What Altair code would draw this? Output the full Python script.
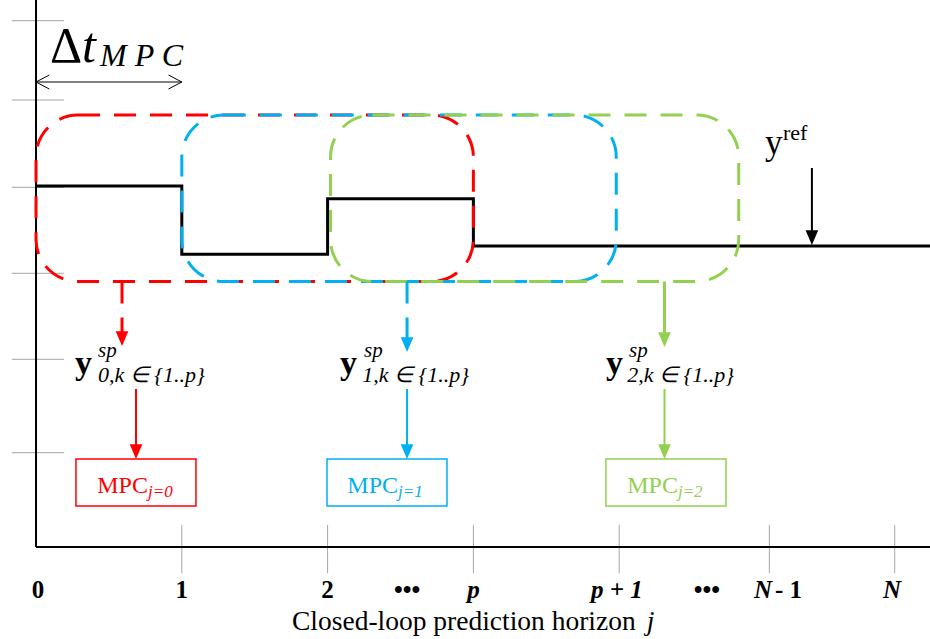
import altair as alt
import pandas as pd

SERIF = "Liberation Serif"

# Drawing frame: x in horizon steps j, y in signal-level units
X_DOMAIN = [-0.247, 6.132]
Y_DOMAIN = [-0.92, 5.47]

# Closed-loop set-point trajectory (piecewise constant, step-after)
TRAJ_J = [0, 1, 2, 3, 6.132]
TRAJ_Y = [3.61, 2.927, 3.483, 3.01, 3.01]

# Receding MPC windows
WIN_NAME = ["j=0", "j=1", "j=2"]
WIN_COLOR = ["#FF0000", "#00B0F0", "#92D050"]
WIN_START = [0.0, 1.0, 2.02]
WIN_END = [3.0, 3.98, 4.82]
WIN_TOP = 4.32
WIN_BOTTOM = 2.655

# Set-point hand-off arrows leaving each window
SP_ARROW_J = [0.59, 2.545, 4.311]
SP_ARROW_BASE = [2.15, 2.09, 2.14]
SP_ARROW_TIP = [2.01, 1.95, 2.00]
SP_ARROW_DASHED = [True, True, False]

# Set-point labels y^sp_{i,k}
SP_Y_J = [0.267, 2.085, 3.909]
SP_SUP_J = [0.425, 2.25, 4.068]
SP_SUB_J = [0.425, 2.237, 4.055]
SP_SUB_TEXT = ["0,k ∈ {1..p}", "1,k ∈ {1..p}", "2,k ∈ {1..p}"]
SP_Y_LEVEL, SP_SUP_LEVEL, SP_SUB_LEVEL = 1.73, 1.90, 1.65

# Controller boxes and the arrows feeding them
BOX_START = [0.274, 1.996, 3.909]
BOX_END = [1.097, 2.819, 4.733]
BOX_TOP, BOX_BOTTOM = 0.88, 0.41
CTRL_ARROW_J = [0.686, 2.545, 4.311]
CTRL_ARROW_FROM, CTRL_ARROW_BASE = 1.58, 1.0
MPC_SPLIT_J = [0.768, 2.483, 4.403]

# Reference level marker
REF_J, REF_FROM, REF_BASE, REF_TIP = 5.322, 3.79, 3.15, 3.02

# Sampling interval marker
DT_FROM, DT_TO, DT_LEVEL = 0.0, 1.0, 4.65

# Axis furniture
Y_TOP = 5.47
X_RIGHT = 6.132
Y_TICKS = [0.943, 1.877, 2.737, 3.597, 4.47, 5.263]
Y_TICK_SPAN = [-0.165, 0.192]
X_TICKS = [1, 2, 3, 4, 5.03, 5.89]
X_TICK_SPAN = [-0.263, 0.22]

# Horizon labels: text, position, italic?, alignment
X_LABEL_TEXT = ["0", "1", "2", "•••", "p", "p + 1", "•••", "N", "- 1", "N"]
X_LABEL_J = [0.014, 1.0, 2.0, 2.545, 3.0, 3.985, 4.602, 5.048, 5.069, 5.871]
X_LABEL_ITALIC = [False, False, False, False, True, True, False, True, False, True]
X_LABEL_ALIGN = ["center"] * 7 + ["right", "left", "center"]
X_LABEL_LEVEL = -0.51

TITLE_TEXT, TITLE_J, TITLE_VAR_J, TITLE_LEVEL = "Closed-loop prediction horizon", 1.756, 4.19, -0.83

xs = alt.Scale(domain=X_DOMAIN, nice=False, zero=False)
ys = alt.Scale(domain=Y_DOMAIN, nice=False, zero=False)


def X(f="x"):
    return alt.X(f"{f}:Q", scale=xs, axis=None)


def Y(f="y"):
    return alt.Y(f"{f}:Q", scale=ys, axis=None)


layers = []

# grey tick strokes crossing both axes
ticks = [dict(x=Y_TICK_SPAN[0], x2=Y_TICK_SPAN[1], y=v, y2=v) for v in Y_TICKS]
ticks += [dict(x=v, x2=v, y=X_TICK_SPAN[0], y2=X_TICK_SPAN[1]) for v in X_TICKS]
layers.append(
    alt.Chart(pd.DataFrame(ticks)).mark_rule(color="#A6A6A6", strokeWidth=1).encode(
        x=X(), x2="x2:Q", y=Y(), y2="y2:Q"
    )
)

# axis lines
axes = pd.DataFrame([dict(x=0, x2=0, y=0, y2=Y_TOP), dict(x=0, x2=X_RIGHT, y=0, y2=0)])
layers.append(
    alt.Chart(axes).mark_rule(color="black", strokeWidth=2).encode(
        x=X(), x2="x2:Q", y=Y(), y2="y2:Q"
    )
)

# trajectory
traj = pd.DataFrame({"x": TRAJ_J, "y": TRAJ_Y})
layers.append(
    alt.Chart(traj).mark_line(interpolate="step-after", color="black", strokeWidth=3).encode(
        x=X(), y=Y(), order="x:Q"
    )
)

# dashed rounded windows
win = pd.DataFrame({
    "x": WIN_START, "x2": WIN_END,
    "y": [WIN_TOP] * 3, "y2": [WIN_BOTTOM] * 3,
    "col": WIN_COLOR, "k": [0, 1, 2],
})
for i in range(3):
    layers.append(
        alt.Chart(win.iloc[[i]]).mark_rect(
            fill="transparent", strokeWidth=3, strokeDash=[22, 14], cornerRadius=42
        ).encode(x=X(), x2="x2:Q", y=Y(), y2="y2:Q", stroke=alt.Stroke("col:N", scale=None))
    )

# set-point arrows (shafts)
sp = pd.DataFrame({
    "x": SP_ARROW_J, "y": [WIN_BOTTOM] * 3, "y2": SP_ARROW_BASE,
    "tip": SP_ARROW_TIP, "col": WIN_COLOR, "dashed": SP_ARROW_DASHED,
})
layers.append(
    alt.Chart(sp[sp.dashed]).mark_rule(strokeWidth=3, strokeDash=[22, 14]).encode(
        x=X(), y=Y(), y2="y2:Q", color=alt.Color("col:N", scale=None)
    )
)
layers.append(
    alt.Chart(sp[~sp.dashed]).mark_rule(strokeWidth=3).encode(
        x=X(), y=Y(), y2="y2:Q", color=alt.Color("col:N", scale=None)
    )
)

# controller-feed arrows and reference arrow (shafts)
shafts = pd.DataFrame({
    "x": CTRL_ARROW_J + [REF_J],
    "y": [CTRL_ARROW_FROM] * 3 + [REF_FROM],
    "y2": [CTRL_ARROW_BASE] * 3 + [REF_BASE],
    "col": WIN_COLOR + ["black"],
})
layers.append(
    alt.Chart(shafts).mark_rule(strokeWidth=2).encode(
        x=X(), y=Y(), y2="y2:Q", color=alt.Color("col:N", scale=None)
    )
)

# filled arrowheads (tip at the data point)
heads = pd.DataFrame({
    "x": SP_ARROW_J + CTRL_ARROW_J + [REF_J],
    "y": SP_ARROW_TIP + [BOX_TOP] * 3 + [REF_TIP],
    "col": WIN_COLOR + WIN_COLOR + ["black"],
})
layers.append(
    alt.Chart(heads).mark_point(
        shape="M-1,-2.33L1,-2.33L0,0Z", filled=True, size=160, opacity=1
    ).encode(x=X(), y=Y(), color=alt.Color("col:N", scale=None))
)

# sampling-interval double arrow
layers.append(
    alt.Chart(pd.DataFrame({"x": [DT_FROM], "x2": [DT_TO], "y": [DT_LEVEL]})).mark_rule(
        color="black", strokeWidth=1
    ).encode(x=X(), x2="x2:Q", y=Y())
)
for jx, path in [(DT_FROM, "M1.9,-1L0,0L1.9,1"), (DT_TO, "M-1.9,-1L0,0L-1.9,1")]:
    layers.append(
        alt.Chart(pd.DataFrame({"x": [jx], "y": [DT_LEVEL]})).mark_point(
            shape=path, filled=False, size=196, opacity=1, color="black", strokeWidth=1
        ).encode(x=X(), y=Y())
    )

# controller boxes
box = pd.DataFrame({
    "x": BOX_START, "x2": BOX_END,
    "y": [BOX_TOP] * 3, "y2": [BOX_BOTTOM] * 3, "col": WIN_COLOR,
})
layers.append(
    alt.Chart(box).mark_rect(fill="transparent", strokeWidth=1.5).encode(
        x=X(), x2="x2:Q", y=Y(), y2="y2:Q", stroke=alt.Stroke("col:N", scale=None)
    )
)

# ---- text ----
rows = []


def add(text, x, y, fs, col="black", style="normal", weight="normal", align="left"):
    rows.append(dict(text=text, x=x, y=y, fs=fs, col=col, style=style, weight=weight, align=align))


add("Δ", 0.096, 4.85, 50)
add("t", 0.316, 4.85, 50, style="italic")
add("M P C", 0.439, 4.81, 32, style="italic")

add("y", 5.0, 3.93, 35)
add("ref", 5.123, 4.07, 22)

for i in range(3):
    add("y", SP_Y_J[i], SP_Y_LEVEL, 34, weight="bold")
    add("sp", SP_SUP_J[i], SP_SUP_LEVEL, 21, style="italic")
    add(SP_SUB_TEXT[i], SP_SUB_J[i], SP_SUB_LEVEL, 22, style="italic")
    add("MPC", MPC_SPLIT_J[i], 0.54, 24, col=WIN_COLOR[i], align="right")
    add(WIN_NAME[i], MPC_SPLIT_J[i], 0.50, 17, col=WIN_COLOR[i], style="italic")

for t, jx, it, al in zip(X_LABEL_TEXT, X_LABEL_J, X_LABEL_ITALIC, X_LABEL_ALIGN):
    add(t, jx, X_LABEL_LEVEL, 25, style="italic" if it else "normal", weight="bold", align=al)

add(TITLE_TEXT, TITLE_J, TITLE_LEVEL, 27.5)
add("j", TITLE_VAR_J, TITLE_LEVEL, 27.5, style="italic")

txt = pd.DataFrame(rows)
for (style, weight, align), g in txt.groupby(["style", "weight", "align"]):
    layers.append(
        alt.Chart(g).mark_text(
            font=SERIF, fontStyle=style, fontWeight=weight, align=align, baseline="alphabetic"
        ).encode(
            x=X(), y=Y(), text="text:N",
            size=alt.Size("fs:Q", scale=None),
            color=alt.Color("col:N", scale=None),
        )
    )

chart = alt.layer(*layers).properties(
    width=930, height=639, padding=0, background="white",
    autosize=alt.AutoSizeParams(type="none"),
).configure_view(stroke=None)

chart.save("out.html", embed_options={"renderer": "svg", "actions": False})
